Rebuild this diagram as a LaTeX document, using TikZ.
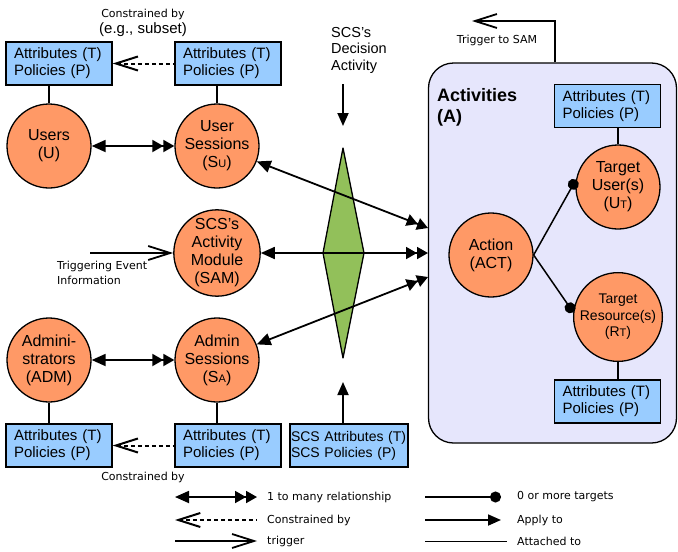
\documentclass[tikz,border=0pt]{standalone}
\usepackage{fontspec}
\setmainfont{Liberation Sans}[Ligatures=ResetAll]
\newfontfamily\klfont{DejaVu Sans}[Ligatures=ResetAll]
\usetikzlibrary{arrows.meta,positioning,calc}
\definecolor{lachs}{HTML}{FF9966}
\definecolor{himmel}{HTML}{99CCFF}
\definecolor{gras}{HTML}{92C05A}
\definecolor{lavendel}{HTML}{E6E6FC}
\newcommand{\tief}[1]{{\fontsize{11}{11}\selectfont #1}}
\tikzset{
  ent/.style={circle,draw,fill=lachs,line width=1.3pt,minimum size=84pt,inner sep=0pt,align=center,font=\fontsize{16}{18}\selectfont},
  attr/.style={rectangle,draw,fill=himmel,line width=1.3pt,minimum width=106pt,minimum height=43pt,text width=90pt,align=left,inner sep=0pt,font=\fontsize{15}{17}\selectfont},
  onemany/.style={{Triangle[length=14pt,width=12pt]}-{Triangle[length=11pt,width=12pt]Triangle[length=11pt,width=12pt]},line width=1.8pt},
  constr/.style={{Straight Barb[length=22pt,width=14pt]}-,dash pattern=on 4pt off 3pt,line width=2pt},
  trig/.style={-{Straight Barb[length=22pt,width=14pt]},line width=1.8pt},
  apply/.style={-{Triangle[length=13pt,width=11pt]},line width=1.8pt},
  zero/.style={-{Circle[length=11pt]},line width=1.5pt},
  att/.style={line width=1.3pt},
  klein/.style={font=\klfont\fontsize{11}{15}\selectfont,inner sep=0pt},
}
\begin{document}
\begin{tikzpicture}[x=1pt,y=-1pt]
  \useasboundingbox (0,0) rectangle (678,552);
  % activities panel
  \node[draw,fill=lavendel,line width=1.3pt,rounded corners=25pt,minimum width=248pt,minimum height=380pt] (acts) at (552.5,253) {};
  \node[anchor=north west,align=left,inner sep=0pt,font=\bfseries\fontsize{18}{21}\selectfont] (actlbl) at (437,88) {Activities\\(A)};
  % attribute boxes
  \node[attr] (usersbox) at (59,63.5) {Attributes (T)\\Policies (P)};
  \node[attr] (usbox) at (228,63.5) {Attributes (T)\\Policies (P)};
  \node[attr] (adminbox) at (59,445.5) {Attributes (T)\\Policies (P)};
  \node[attr] (asbox) at (228,445.5) {Attributes (T)\\Policies (P)};
  \node[attr,minimum width=118pt,text width=116pt,font=\fontsize{14}{16}\selectfont] (scsbox) at (349,445.5) {SCS Attributes (T)\\SCS Policies (P)};
  \node[attr] (tbox) at (607.5,106) {Attributes (T)\\Policies (P)};
  \node[attr] (rbox) at (607.5,401.5) {Attributes (T)\\Policies (P)};
  % entities
  \node[ent] (users) at (49,146) {Users\\(U)};
  \node[ent] (usess) at (217,146) {User\\Sessions\\(S\tief{U})};
  \node[ent] (sam) at (217,253) {SCS's\\Activity\\Module\\(SAM)};
  \node[ent] (admin) at (49,360) {Admini-\\strators\\(ADM)};
  \node[ent] (asess) at (217,360) {Admin\\Sessions\\(S\tief{A})};
  \node[ent] (act) at (491,255) {Action\\(ACT)};
  \node[ent] (tuser) at (618,187) {Target\\User(s)\\(U\tief{T})};
  \node[ent,font=\fontsize{14}{16.5}\selectfont] (tres) at (618,317) {Target\\Resource(s)\\(R\tief{T})};
  % attached to
  \draw[att] (users.north) -- (users.north |- usersbox.south);
  \draw[att] (usess.north) -- (usess.north |- usbox.south);
  \draw[att] (admin.south) -- (admin.south |- adminbox.north);
  \draw[att] (asess.south) -- (asess.south |- asbox.north);
  \draw[att] (tuser.north) -- (tuser.north |- tbox.south);
  \draw[att] (tres.south) -- (tres.south |- rbox.north);
  % constrained by
  \draw[constr] (usersbox.east) -- (usbox.west);
  \draw[constr] (adminbox.east) -- (asbox.west);
  \node[klein] (c1) at (143,14) {Constrained by};
  \node[inner sep=0pt,font=\fontsize{15}{17}\selectfont] (c1b) at (143,30) {(e.g., subset)};
  \node[klein] (c2) at (143,477) {Constrained by};
  % users and admins
  \draw[onemany] (users) -- (usess);
  \draw[onemany] (admin) -- (asess);
  % trigger in
  \coordinate (trigin) at (90,253);
  \draw[trig] (trigin) -- (sam);
  \node[klein,anchor=north west,align=left] (triglbl) at (57,261) {Triggering Event\\Information};
  % decision
  \node[anchor=north west,align=left,inner sep=0pt,font=\fontsize{14.5}{16.5}\selectfont] (declbl) at (331,27) {SCS's\\Decision\\Activity};
  \coordinate (dtop) at (343,84);
  \coordinate (dbot) at (343,126);
  \draw[apply] (dtop) -- (dbot);
  \coordinate (dn) at (343,148);
  \coordinate (de) at (364,253);
  \coordinate (ds) at (343,358);
  \coordinate (dw) at (323,253);
  \draw[fill=gras,line width=1.3pt,line join=round] (dn) -- (de) -- (ds) -- (dw) -- cycle;
  \coordinate (uptip) at (343,382);
  \draw[apply] (uptip |- scsbox.north) -- (uptip);
  % into activities
  \coordinate (in1) at (428,228);
  \coordinate (in2) at (428,253);
  \coordinate (in3) at (428,277);
  \draw[onemany] (usess) -- (in1);
  \draw[onemany] (sam) -- (in2);
  \draw[onemany] (asess) -- (in3);
  % trigger to SAM
  \coordinate (trigtop) at (555,21);
  \coordinate (trigend) at (472,21);
  \draw[trig] (trigtop |- acts.north) -- (trigtop) -- (trigend);
  \node[klein] (trigsam) at (497,40) {Trigger to SAM};
  % targets
  \draw[zero] (act.east) -- (tuser.170);
  \draw[zero] (act.east) -- (tres.174);
  % legend
  \coordinate (l1a) at (175,497); \coordinate (l1b) at (257,497);
  \coordinate (l2a) at (175,520); \coordinate (l2b) at (257,520);
  \coordinate (l3a) at (175,541); \coordinate (l3b) at (257,541);
  \coordinate (r1a) at (425,497); \coordinate (r1b) at (501,497);
  \coordinate (r2a) at (425,520); \coordinate (r2b) at (501,520);
  \coordinate (r3a) at (425,541); \coordinate (r3b) at (507,541);
  \draw[onemany] (l1a) -- (l1b);
  \draw[constr] (l2a) -- (l2b);
  \draw[trig] (l3a) -- (l3b);
  \draw[zero] (r1a) -- (r1b);
  \draw[apply] (r2a) -- (r2b);
  \draw[line width=1pt] (r3a) -- (r3b);
  \node[klein,anchor=west] (leg1) at (267,497) {1 to many relationship};
  \node[klein,anchor=west] (leg2) at (267,520) {Constrained by};
  \node[klein,anchor=west] (leg3) at (267,541) {trigger};
  \node[klein,anchor=west] (leg4) at (517,497) {0 or more targets};
  \node[klein,anchor=west] (leg5) at (517,520) {Apply to};
  \node[klein,anchor=west] (leg6) at (517,541) {Attached to};
\end{tikzpicture}
\end{document}
